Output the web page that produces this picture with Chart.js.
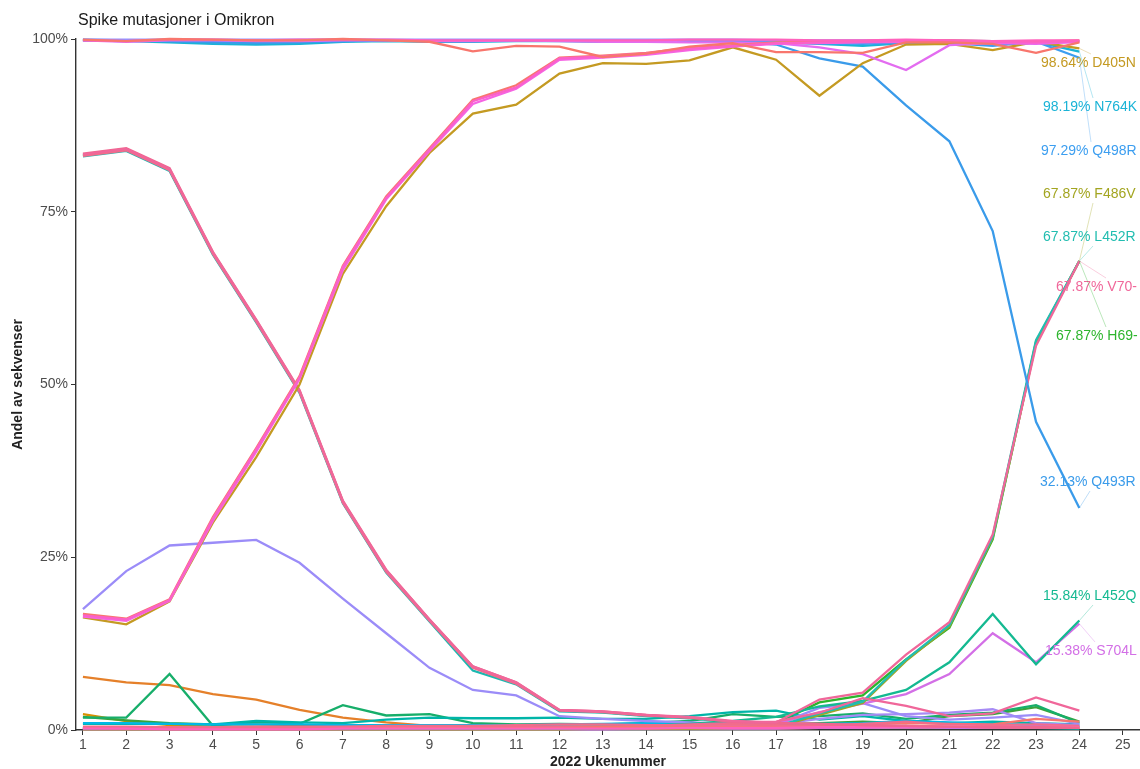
<!DOCTYPE html>
<html>
<head>
<meta charset="utf-8">
<script src="https://cdn.jsdelivr.net/npm/chart.js@4"></script>
<style>
  html, body { margin: 0; padding: 0; background: #fff; overflow: hidden; }
  #wrap { width: 1140px; height: 769px; }
</style>
</head>
<body>
<div id="wrap"><canvas id="graf" width="1140" height="769"></canvas></div>
<script>
// uker og aksemerker
const uker = [1, 2, 3, 4, 5, 6, 7, 8, 9, 10, 11, 12, 13, 14, 15, 16, 17, 18, 19, 20, 21, 22, 23, 24];
const ukeTicks = [1, 2, 3, 4, 5, 6, 7, 8, 9, 10, 11, 12, 13, 14, 15, 16, 17, 18, 19, 20, 21, 22, 23, 24, 25];
const prosentTicks = [0, 25, 50, 75, 100];

// andel (%) per uke, lest av figuren
const G339D = [99.9, 99.7, 100, 99.9, 99.8, 99.8, 100, 99.8, 99.6, 98.2, 99.0, 98.9, 97.4, 97.9, 98.9, 99.4, 98.1, 98.1, 98.0, 99.5, 99.5, 99.3, 98.0, 99.5];
const S375F = [99.9, 99.9, 99.9, 99.9, 99.9, 99.9, 99.9, 99.9, 99.9, 99.9, 99.9, 99.9, 99.9, 99.9, 99.9, 99.9, 99.8, 99.8, 99.8, 99.8, 99.8, 99.7, 99.6, 99.7];
const K417N = [99.8, 99.6, 99.8, 99.8, 99.7, 99.7, 99.8, 99.8, 99.7, 99.7, 99.8, 99.7, 99.6, 99.6, 99.5, 99.5, 99.4, 98.8, 97.8, 95.5, 99.1, 99.4, 99.3, 99.6];
const N764K = [99.8, 99.7, 99.5, 99.3, 99.2, 99.3, 99.6, 99.7, 99.6, 99.6, 99.7, 99.7, 99.6, 99.6, 99.7, 99.6, 99.5, 99.3, 99.0, 99.4, 99.5, 99.2, 99.6, 98.19];
const Q498R = [99.8, 99.8, 99.7, 99.6, 99.6, 99.6, 99.7, 99.8, 99.8, 99.8, 99.8, 99.8, 99.7, 99.7, 99.6, 99.6, 99.5, 99.4, 99.3, 99.5, 99.4, 99.0, 99.6, 97.29];
const Q493R = [99.9, 99.8, 99.7, 99.5, 99.4, 99.5, 99.7, 99.8, 99.7, 99.7, 99.8, 99.8, 99.8, 99.8, 99.8, 99.7, 99.2, 97.2, 96.0, 90.4, 85.2, 72.2, 44.6, 32.13];
const T478K = [99.8, 99.7, 99.9, 99.9, 99.8, 99.9, 99.9, 99.9, 99.8, 99.8, 99.8, 99.8, 99.8, 99.8, 99.9, 99.9, 99.9, 99.8, 99.8, 99.9, 99.8, 99.7, 99.8, 99.8];

const D405N = [16.3, 15.3, 18.6, 30.0, 39.5, 50.0, 66.0, 75.8, 83.5, 89.2, 90.5, 95.0, 96.5, 96.4, 96.9, 98.8, 97.0, 91.8, 96.5, 99.2, 99.3, 98.4, 99.6, 98.64];
const T376A = [16.6, 16.0, 18.8, 30.6, 40.6, 51.0, 67.0, 77.0, 84.0, 91.0, 93.0, 97.2, 97.5, 97.9, 98.6, 99.0, 99.4, 99.5, 99.6, 99.7, 99.7, 99.6, 99.5, 99.7];
const R408S = [16.4, 15.8, 18.7, 30.3, 40.3, 50.8, 66.6, 76.8, 83.8, 90.6, 92.8, 97.0, 97.3, 97.7, 98.4, 98.9, 99.3, 99.4, 99.5, 99.6, 99.6, 99.5, 99.4, 99.6];
const S371F = [16.8, 16.1, 18.9, 30.8, 40.8, 51.2, 67.2, 77.2, 84.2, 91.2, 93.3, 97.3, 97.6, 98.0, 98.7, 99.1, 99.5, 99.6, 99.7, 99.8, 99.8, 99.7, 99.6, 99.8];

const G446S = [83.4, 84.2, 81.3, 69.2, 59.4, 49.2, 33.2, 23.2, 16.0, 9.2, 6.9, 2.9, 2.7, 2.2, 1.8, 1.2, 1.0, 0.9, 0.7, 0.6, 0.5, 0.4, 0.4, 0.3];
const G496S = [83.0, 83.8, 80.9, 68.8, 59.0, 48.8, 32.8, 22.8, 15.7, 8.6, 6.6, 2.7, 2.5, 2.0, 1.7, 1.1, 0.9, 0.8, 0.6, 0.5, 0.4, 0.3, 0.3, 0.2];
const T547K = [83.1, 83.9, 81.0, 68.9, 59.1, 48.9, 32.9, 22.9, 15.8, 9.0, 6.7, 2.8, 2.6, 2.1, 1.8, 1.2, 1.0, 0.9, 0.7, 0.6, 0.5, 0.4, 0.4, 0.3];
const H69del = [83.2, 84.0, 81.1, 69.0, 59.2, 49.0, 33.0, 23.0, 15.9, 9.1, 6.8, 2.8, 2.6, 2.1, 1.8, 1.2, 1.0, 4.0, 5.0, 10.2, 14.8, 27.6, 56.2, 67.87];
const V70del = [83.3, 84.1, 81.2, 69.1, 59.3, 49.1, 33.1, 23.1, 16.0, 9.2, 6.9, 2.9, 2.7, 2.2, 1.9, 1.3, 1.1, 4.4, 5.4, 10.9, 15.6, 28.3, 55.6, 67.87];

const F486V = [0.1, 0.1, 0.1, 0.1, 0.1, 0.1, 0.1, 0.1, 0.1, 0.1, 0.1, 0.1, 0.2, 0.2, 0.2, 0.3, 0.4, 2.2, 3.9, 10.0, 15.0, 27.8, 56.0, 67.87];
const L452R = [0.2, 0.2, 0.2, 0.2, 0.2, 0.2, 0.2, 0.2, 0.2, 0.2, 0.2, 0.2, 0.2, 0.3, 0.3, 0.4, 0.5, 2.4, 4.1, 10.2, 15.2, 28.0, 56.4, 67.87];
const L452Q = [0.3, 0.2, 0.2, 0.3, 0.2, 0.3, 0.3, 0.3, 0.3, 0.3, 0.4, 0.4, 0.4, 0.6, 0.9, 1.3, 1.9, 3.4, 4.2, 5.8, 9.8, 16.8, 9.5, 15.84];
const S704L = [0.1, 0.1, 0.1, 0.1, 0.1, 0.1, 0.1, 0.2, 0.2, 0.2, 0.2, 0.2, 0.3, 0.4, 0.5, 0.7, 0.9, 2.6, 3.8, 5.2, 8.1, 14.0, 9.8, 15.38];

const R346K = [17.5, 23.0, 26.7, 27.1, 27.5, 24.2, 19.0, 14.0, 9.0, 5.8, 5.0, 2.0, 1.6, 1.3, 1.1, 0.9, 0.8, 3.2, 3.9, 2.0, 1.5, 1.8, 2.2, 0.9];
const A701V = [7.7, 6.9, 6.5, 5.2, 4.4, 2.9, 1.8, 1.1, 0.6, 0.4, 0.3, 0.3, 0.3, 0.2, 0.2, 0.2, 0.2, 0.3, 0.4, 0.3, 0.3, 0.3, 0.4, 0.3];
const I1081V = [1.8, 1.8, 8.1, 0.6, 1.2, 0.9, 3.6, 2.1, 2.3, 1.0, 0.8, 0.9, 0.8, 1.0, 1.3, 2.3, 1.9, 2.0, 2.4, 1.6, 2.2, 2.5, 3.6, 1.0];
const N211del = [0.9, 0.9, 0.9, 0.8, 1.3, 1.1, 1.0, 1.5, 1.8, 1.7, 1.7, 1.8, 1.6, 1.6, 2.0, 2.6, 2.8, 1.5, 2.0, 1.3, 1.0, 1.2, 1.0, 0.8];
const T95I = [1.9, 1.4, 1.0, 0.8, 0.8, 0.7, 0.6, 0.6, 0.5, 0.5, 0.5, 0.5, 0.5, 0.6, 0.6, 0.8, 0.8, 1.0, 1.2, 1.0, 2.0, 2.3, 3.3, 1.2];
const A67V = [2.3, 1.3, 0.7, 0.5, 0.4, 0.4, 0.4, 0.3, 0.3, 0.3, 0.3, 0.3, 0.3, 0.3, 0.3, 0.3, 0.4, 0.5, 0.6, 0.5, 0.4, 0.4, 0.5, 0.4];
const L212I = [1.0, 1.0, 0.9, 0.8, 0.8, 0.8, 0.7, 0.7, 0.7, 0.7, 0.7, 0.8, 0.9, 1.0, 1.0, 0.9, 0.8, 0.9, 1.0, 1.3, 1.1, 0.9, 0.7, 0.6];
const G142D = [0.3, 0.3, 0.3, 0.3, 0.3, 0.3, 0.3, 0.4, 0.4, 0.4, 0.4, 0.5, 0.5, 0.6, 0.8, 1.0, 1.2, 2.5, 4.6, 3.5, 2.0, 2.4, 4.7, 2.8];
const Y145D = [0.2, 0.2, 0.2, 0.2, 0.2, 0.2, 0.2, 0.2, 0.3, 0.3, 0.3, 0.3, 0.3, 0.4, 0.5, 0.6, 0.8, 1.6, 2.2, 2.3, 2.5, 3.0, 1.0, 0.7];
const N679K = [0.1, 0.1, 0.1, 0.1, 0.1, 0.1, 0.1, 0.1, 0.1, 0.1, 0.1, 0.1, 0.1, 0.2, 0.2, 0.2, 0.2, 0.3, 0.3, 0.4, 0.3, 0.3, 0.4, 0.3];
const N969K = [0.3, 0.2, 0.2, 0.2, 0.3, 0.3, 0.3, 0.3, 0.3, 0.3, 0.3, 0.3, 0.4, 0.4, 0.4, 0.5, 0.5, 0.6, 0.8, 1.0, 0.9, 0.8, 1.6, 1.2];
const L981F = [0.5, 0.5, 0.4, 0.4, 0.5, 0.5, 0.5, 0.6, 0.6, 0.6, 0.7, 0.8, 0.8, 0.7, 0.7, 0.8, 0.7, 0.6, 0.9, 1.2, 0.8, 0.7, 0.8, 0.6];
const S477N = [0.2, 0.2, 0.1, 0.1, 0.1, 0.1, 0.2, 0.2, 0.2, 0.2, 0.2, 0.2, 0.2, 0.2, 0.3, 0.3, 0.3, 0.4, 0.4, 0.5, 0.5, 0.4, 0.5, 0.4];

// tegnerekkefolge: forste tegnes nederst
const serier = [
  { navn: 'H69-', data: H69del, farge: '#2DB52D' },
  { navn: 'G496S', data: G496S, farge: '#1CB8B0' },
  { navn: 'A701V', data: A701V, farge: '#E5802A' },
  { navn: 'A67V', data: A67V, farge: '#D89000' },
  { navn: 'T95I', data: T95I, farge: '#3BA33B' },
  { navn: 'I1081V', data: I1081V, farge: '#17AE6A' },
  { navn: 'N211del', data: N211del, farge: '#00B5A8' },
  { navn: 'L212I', data: L212I, farge: '#00B8E7' },
  { navn: 'Y145D', data: Y145D, farge: '#A78BF5' },
  { navn: 'N679K', data: N679K, farge: '#D36FE6' },
  { navn: 'R346K', data: R346K, farge: '#9B8CF8' },
  { navn: 'S704L', data: S704L, farge: '#D36FE6' },
  { navn: 'L452Q', data: L452Q, farge: '#14B991' },
  { navn: 'F486V', data: F486V, farge: '#A3A520' },
  { navn: 'L452R', data: L452R, farge: '#22BDB0' },
  { navn: 'G142D', data: G142D, farge: '#F0679A' },
  { navn: 'N969K', data: N969K, farge: '#F8766D' },
  { navn: 'L981F', data: L981F, farge: '#F26C8A' },
  { navn: 'S477N', data: S477N, farge: '#FF62BC' },
  { navn: 'T547K', data: T547K, farge: '#F26C8A' },
  { navn: 'G446S', data: G446S, farge: '#F0668F' },
  { navn: 'V70-', data: V70del, farge: '#F0679A' },
  { navn: 'N764K', data: N764K, farge: '#1AB3D6' },
  { navn: 'Q498R', data: Q498R, farge: '#3C9EF0' },
  { navn: 'Q493R', data: Q493R, farge: '#3A9BEA' },
  { navn: 'S375F', data: S375F, farge: '#9590FF' },
  { navn: 'D405N', data: D405N, farge: '#C49A22' },
  { navn: 'K417N', data: K417N, farge: '#E36CF0' },
  { navn: 'R408S', data: R408S, farge: '#F564E3' },
  { navn: 'S371F', data: S371F, farge: '#F8766D' },
  { navn: 'T376A', data: T376A, farge: '#FB61C7' },
  { navn: 'T478K', data: T478K, farge: '#FF62BC' },
  { navn: 'G339D', data: G339D, farge: '#F8766D' }
];

// etiketter ved siste uke (plassering i piksler)
const etiketter = [
  { navn: 'D405N', x: 1041, y: 63 },
  { navn: 'N764K', x: 1043, y: 107 },
  { navn: 'Q498R', x: 1041, y: 151 },
  { navn: 'F486V', x: 1043, y: 194 },
  { navn: 'L452R', x: 1043, y: 237 },
  { navn: 'V70-', x: 1056, y: 287 },
  { navn: 'H69-', x: 1056, y: 336 },
  { navn: 'Q493R', x: 1040, y: 482 },
  { navn: 'L452Q', x: 1043, y: 596 },
  { navn: 'S704L', x: 1045, y: 651 }
];

const FONT = '"Liberation Sans", Arial, sans-serif';

const etikettPlugin = {
  id: 'etiketter',
  afterDraw(chart) {
    const ctx = chart.ctx;
    const xs = chart.scales.x, ys = chart.scales.y;
    ctx.save();
    // tittel
    ctx.fillStyle = '#1a1a1a';
    ctx.font = '16px ' + FONT;
    ctx.textBaseline = 'middle';
    ctx.textAlign = 'left';
    ctx.fillText('Spike mutasjoner i Omikron', 78, 21);

    ctx.font = '14px ' + FONT;
    etiketter.forEach(e => {
      const s = serier.find(v => v.navn === e.navn);
      const sist = s.data[s.data.length - 1];
      const px = xs.getPixelForValue(uker[uker.length - 1]);
      const py = ys.getPixelForValue(sist);
      const ey = e.y > py ? e.y - 9 : e.y + 9;
      ctx.strokeStyle = s.farge;
      ctx.globalAlpha = 0.55;
      ctx.lineWidth = 0.6;
      ctx.beginPath();
      ctx.moveTo(px, py);
      ctx.lineTo(e.x + 50, ey);
      ctx.stroke();
      ctx.globalAlpha = 1;
      ctx.fillStyle = s.farge;
      ctx.fillText(sist.toFixed(2) + '% ' + e.navn, e.x, e.y);
    });
    ctx.restore();
  }
};

// Chart.js tegner forste datasett overst, derfor snus lista
const datasett = serier.map(s => ({
  label: s.navn,
  data: uker.map((u, i) => ({ x: u, y: s.data[i] })),
  borderColor: s.farge,
  backgroundColor: s.farge,
  borderWidth: 2.3,
  pointRadius: 0,
  tension: 0,
  fill: false,
  clip: 4
})).reverse();

new Chart(document.getElementById('graf').getContext('2d'), {
  type: 'line',
  data: { datasets: datasett },
  options: {
    responsive: false,
    animation: false,
    layout: { padding: { top: 39, right: 0, left: 0, bottom: 0 } },
    plugins: { legend: { display: false }, tooltip: { enabled: false } },
    scales: {
      x: {
        type: 'linear',
        min: 0.84,
        max: 25.4,
        afterBuildTicks: s => { s.ticks = ukeTicks.map(v => ({ value: v })); },
        afterFit: s => { s.height = 39; },
        ticks: { color: '#4d4d4d', font: { size: 14, family: FONT }, padding: 2, maxRotation: 0, autoSkip: false },
        grid: { display: true, drawOnChartArea: false, drawTicks: true, tickLength: 5, color: '#333' },
        border: { display: true, color: '#333', width: 1.4 },
        title: { display: true, text: '2022 Ukenummer', color: '#222', font: { size: 14, weight: 'bold', family: FONT, lineHeight: 1 }, padding: { top: 0, bottom: 0 } }
      },
      y: {
        min: 0,
        max: 100,
        afterBuildTicks: s => { s.ticks = prosentTicks.map(v => ({ value: v })); },
        afterFit: s => { s.width = 76; },
        ticks: { color: '#4d4d4d', font: { size: 14, family: FONT }, padding: 3, callback: v => v + '%' },
        grid: { display: true, drawOnChartArea: false, drawTicks: true, tickLength: 5, color: '#333' },
        border: { display: true, color: '#333', width: 1.4 },
        title: { display: true, text: 'Andel av sekvenser', color: '#222', font: { size: 14, weight: 'bold', family: FONT, lineHeight: 1 }, padding: { top: 11, bottom: 0 } }
      }
    }
  },
  plugins: [etikettPlugin]
});
</script>
</body>
</html>
